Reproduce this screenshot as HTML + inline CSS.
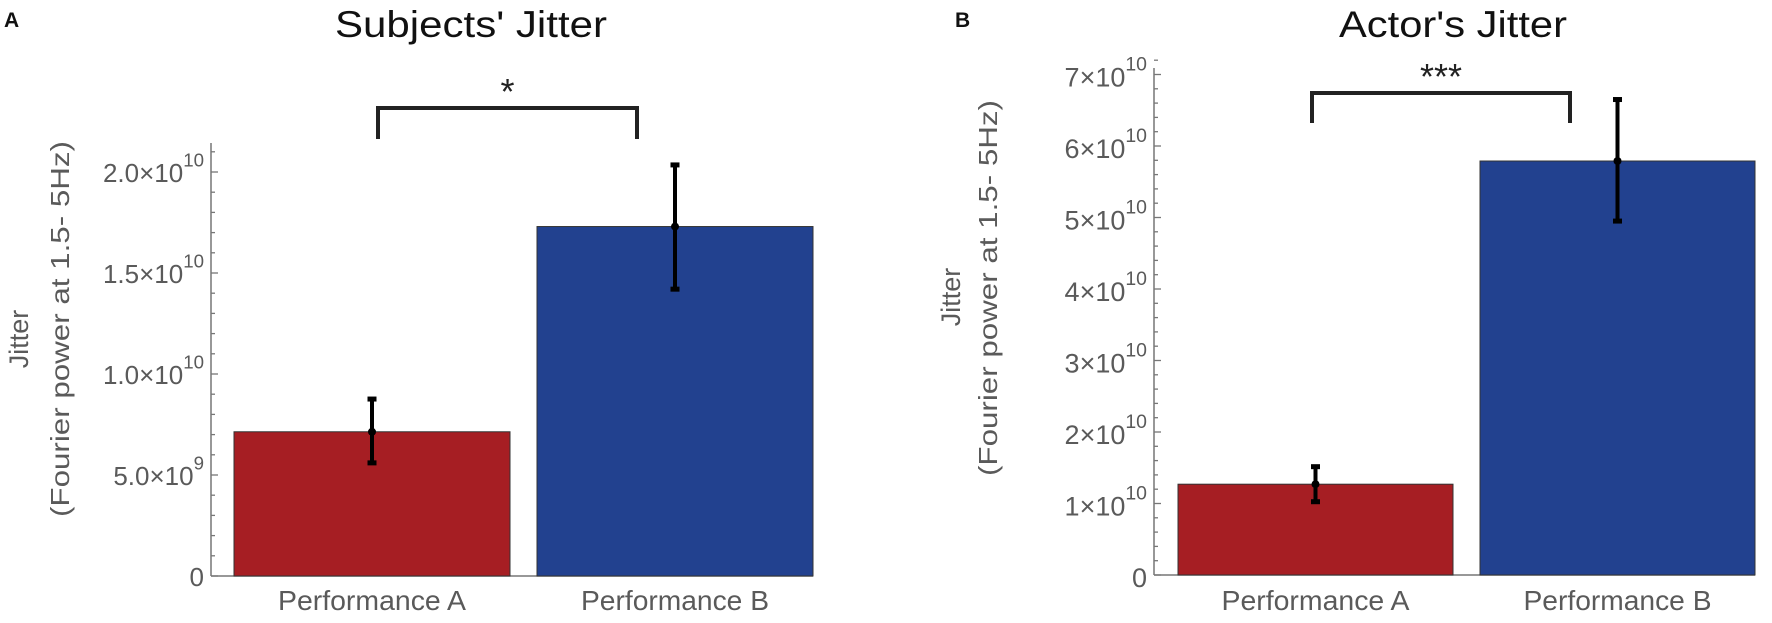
<!DOCTYPE html>
<html><head><meta charset="utf-8">
<style>
html,body{margin:0;padding:0;background:#fff;}
svg{display:block;}
.tick{font-family:"Liberation Sans",sans-serif;fill:#5a5a5a;}
.ttl{font-family:"Liberation Sans",sans-serif;fill:#111;}
</style></head>
<body>
<svg id="fig" width="1772" height="623" viewBox="0 0 1772 623" xmlns="http://www.w3.org/2000/svg">
<text x="4" y="27" font-family="Liberation Sans, sans-serif" font-weight="bold" font-size="21" fill="#111">A</text>
<text x="955" y="27" font-family="Liberation Sans, sans-serif" font-weight="bold" font-size="21" fill="#111">B</text>
<text class="ttl" x="471" y="37" font-size="37" text-anchor="middle" textLength="272" lengthAdjust="spacingAndGlyphs">Subjects' Jitter</text>
<text class="ttl" x="1453" y="37" font-size="37" text-anchor="middle" textLength="228" lengthAdjust="spacingAndGlyphs">Actor's Jitter</text>
</svg>
<script>
// Panel A data
const catsA = ["Performance A", "Performance B"];
const meansA = [7.14e9, 17.3e9];
const errHiA = [8.76e9, 20.35e9];
const errLoA = [5.6e9, 14.2e9];
const ticksA = [0, 5e9, 1e10, 1.5e10, 2e10];
const tickMainA = ["0", "5.0\u00d710", "1.0\u00d710", "1.5\u00d710", "2.0\u00d710"];
const tickSupA = ["", "9", "10", "10", "10"];
const sigA = "*";
// Panel B data
const catsB = ["Performance A", "Performance B"];
const meansB = [1.27e10, 5.79e10];
const errHiB = [1.515e10, 6.65e10];
const errLoB = [1.025e10, 4.95e10];
const ticksB = [0, 1e10, 2e10, 3e10, 4e10, 5e10, 6e10, 7e10];
const tickMainB = ["0", "1\u00d710", "2\u00d710", "3\u00d710", "4\u00d710", "5\u00d710", "6\u00d710", "7\u00d710"];
const tickSupB = ["", "10", "10", "10", "10", "10", "10", "10"];
const sigB = "***";

const NS = "http://www.w3.org/2000/svg";
const svg = document.getElementById("fig");
const colors = ["#A61E23", "#22418F"];
function mk(tag, attrs, parent) {
  const e = document.createElementNS(NS, tag);
  for (const k in attrs) e.setAttribute(k, attrs[k]);
  (parent || svg).appendChild(e);
  return e;
}

function panel(cfg) {
  const g = mk("g", {});
  
  
  const y = v => cfg.y0 - (v - 0) / cfg.unit * cfg.unitPx;
  const ax = mk("line", {x1: cfg.ax, x2: cfg.ax, y1: cfg.axTop, y2: cfg.y0, stroke: "#777", "stroke-width": 1.5}, g);
  
  
  const xax = mk("line", {x1: cfg.ax, x2: cfg.axRight, y1: cfg.y0, y2: cfg.y0, stroke: "#777", "stroke-width": 1.5}, g);
  
  
  const maxV = cfg.ticks[cfg.ticks.length - 1] + cfg.unit * 0.3;
  for (let v = 0; v <= maxV; v += cfg.unit / 5) {
    const isMajor = Math.abs(v / cfg.unit - Math.round(v / cfg.unit)) < 1e-6;
    const t = mk("line", {x1: cfg.ax, x2: cfg.ax + (isMajor ? 7 : 4), y1: y(v), y2: y(v), stroke: "#777", "stroke-width": 1.3}, g);
    
    
  }
  cfg.ticks.forEach((v, i) => {
    const tx = mk("text", {class: "tick", x: cfg.ax - 7, y: y(v) + cfg.lblOff, "text-anchor": "end", "font-size": cfg.tickFs}, g);
    
    
    const m = mk("tspan", {}, tx);
    m.textContent = cfg.tickMain[i];
    if (cfg.tickSup[i]) {
      const s = mk("tspan", {"font-size": cfg.tickFs * 0.72, dy: -cfg.tickFs * 0.6}, tx);
      s.textContent = cfg.tickSup[i];
    }
  });
  const yl1 = mk("text", {class: "tick", x: 0, y: 0, "font-size": 27, "text-anchor": "middle", transform: `translate(${cfg.ylx1},${cfg.yly1}) rotate(-90)`}, g);
  yl1.textContent = "Jitter";
  
  
  const yl2 = mk("text", {class: "tick", x: 0, y: 0, "font-size": 26, "text-anchor": "middle", textLength: 376, lengthAdjust: "spacingAndGlyphs", transform: `translate(${cfg.ylx2},${cfg.yly2}) rotate(-90)`}, g);
  yl2.textContent = "(Fourier power at 1.5- 5Hz)";
  
  
  cfg.cats.forEach((c, i) => {
    const x0 = cfg.barX[i];
    const cx = x0 + cfg.barW / 2;
    const r = mk("rect", {x: x0, y: y(cfg.means[i]), width: cfg.barW, height: cfg.y0 - y(cfg.means[i]), fill: colors[i], stroke: "#333", "stroke-width": 1}, g);
    
    
    const e = mk("line", {x1: cx, x2: cx, y1: y(cfg.hi[i]), y2: y(cfg.lo[i]), stroke: "#000", "stroke-width": 4}, g);
    
    
    [cfg.hi[i], cfg.lo[i]].forEach(v => {
      const cp = mk("line", {x1: cx - 4.5, x2: cx + 4.5, y1: y(v), y2: y(v), stroke: "#000", "stroke-width": 5}, g);
      
      
    });
    const d = mk("circle", {cx: cx, cy: y(cfg.means[i]), r: 4, fill: "#000"}, g);
    
    
    const lb = mk("text", {class: "tick", x: cx, y: 610, "text-anchor": "middle", "font-size": 28, textLength: 188, lengthAdjust: "spacingAndGlyphs"}, g);
    lb.textContent = c;
    
    
  });
  const b = mk("path", {d: `M${cfg.brL},${cfg.brB} V${cfg.brT} H${cfg.brR} V${cfg.brB}`, fill: "none", stroke: "#222", "stroke-width": 4}, g);
  
  
  const st = mk("text", {x: (cfg.brL + cfg.brR) / 2, y: cfg.brT - 4, "text-anchor": "middle", "font-family": "Liberation Sans, sans-serif", "font-size": 36, fill: "#222"}, g);
  st.textContent = cfg.sig;
  
  
}

panel({name: "panel-a-chart", cats: catsA, means: meansA, hi: errHiA, lo: errLoA, ticks: ticksA, tickMain: tickMainA, tickSup: tickSupA, sig: sigA,
  y0: 576, unit: 5e9, unitPx: 101, ax: 211, axTop: 143, axRight: 813, barX: [234, 537], barW: 276,
  tickFs: 26, lblOff: 10, ylx1: 28, yly1: 339, ylx2: 69, yly2: 329,
  brL: 378, brR: 637, brT: 108, brB: 139});
panel({name: "panel-b-chart", cats: catsB, means: meansB, hi: errHiB, lo: errLoB, ticks: ticksB, tickMain: tickMainB, tickSup: tickSupB, sig: sigB,
  y0: 575, unit: 1e10, unitPx: 71.5, ax: 1154, axTop: 68, axRight: 1755, barX: [1178, 1480], barW: 275,
  tickFs: 27, lblOff: 12, ylx1: 960, yly1: 297, ylx2: 997, yly2: 288,
  brL: 1312, brR: 1570, brT: 93, brB: 123});
</script>
</body></html>
